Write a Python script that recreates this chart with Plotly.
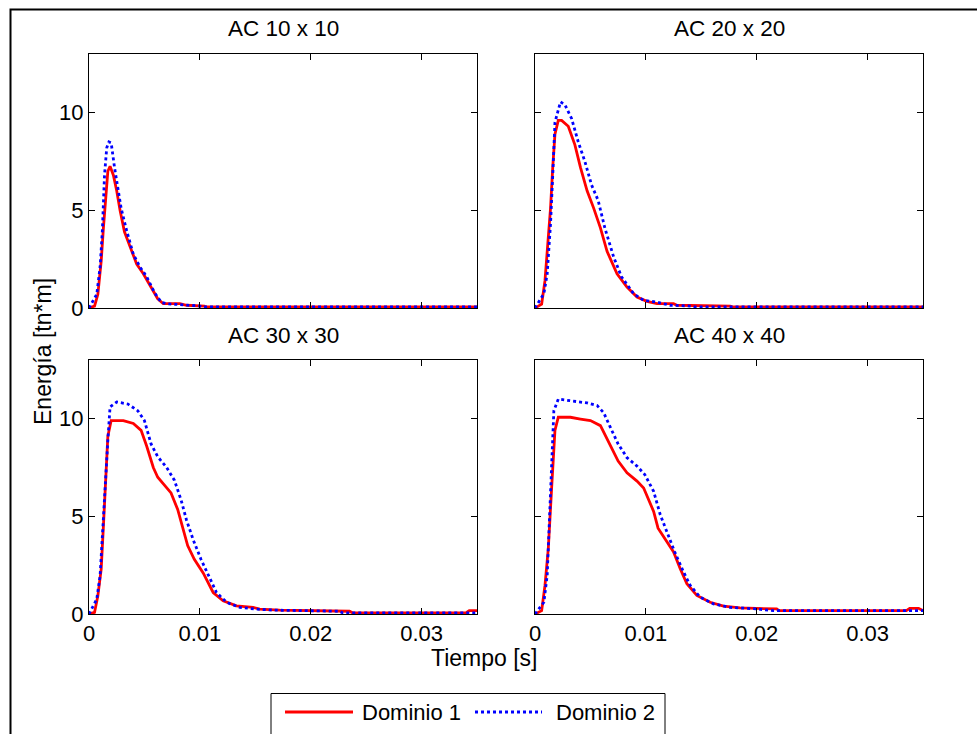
import plotly.graph_objects as go

# ---------------- data ----------------
titles = ["AC 10 x 10", "AC 20 x 20", "AC 30 x 30", "AC 40 x 40"]
series_names = ["Dominio 1", "Dominio 2"]
x_ticks = [0, 0.01, 0.02, 0.03]
x_tick_labels = ["0", "0.01", "0.02", "0.03"]
y_ticks = [0, 5, 10]
y_tick_labels = ["0", "5", "10"]

t_10_d1 = [0, 0.0005, 0.0008, 0.0011, 0.0013, 0.0015, 0.0017, 0.0019, 0.0022, 0.0025, 0.0028, 0.0032,
           0.0037, 0.0043, 0.0049, 0.0056, 0.0062, 0.0067, 0.0082, 0.0088, 0.0104, 0.0106, 0.035]
e_10_d1 = [0, 0.1, 0.7, 2.4, 4.1, 5.6, 7.0, 7.25, 6.8, 6.0, 5.0, 3.9,
           3.1, 2.25, 1.75, 1.07, 0.47, 0.22, 0.22, 0.14, 0.1, 0.05, 0.05]
t_10_d2 = [0, 0.0007, 0.001, 0.0012, 0.0014, 0.0016, 0.0018, 0.002, 0.0023, 0.0026, 0.0029, 0.0034,
           0.004, 0.0046, 0.0052, 0.0059, 0.0065, 0.007, 0.0085, 0.01, 0.0102, 0.035]
e_10_d2 = [0, 0.7, 2.1, 3.9, 6.8, 8.2, 8.5, 8.45, 7.2, 6.15, 5.1, 3.95,
           2.75, 2.1, 1.6, 0.8, 0.3, 0.22, 0.17, 0.1, 0.05, 0.05]

t_20_d1 = [0, 0.0006, 0.0009, 0.0012, 0.0014, 0.0016, 0.0018, 0.0021, 0.0024, 0.003, 0.0036, 0.0041,
           0.0047, 0.0053, 0.0059, 0.0065, 0.0074, 0.0083, 0.0092, 0.0101, 0.011, 0.0125, 0.0128,
           0.0176, 0.0179, 0.035]
e_20_d1 = [0, 0.2, 1.4, 3.4, 5.1, 7.2, 8.9, 9.6, 9.6, 9.3, 8.35, 7.2,
           6.0, 5.1, 4.1, 2.9, 1.75, 1.07, 0.56, 0.34, 0.22, 0.22, 0.14,
           0.1, 0.05, 0.05]
t_20_d2 = [0, 0.0008, 0.0011, 0.0014, 0.0016, 0.0018, 0.0023, 0.0027, 0.0033, 0.0039, 0.0045, 0.0051,
           0.0057, 0.0063, 0.0071, 0.0078, 0.0089, 0.0098, 0.011, 0.0122, 0.014, 0.0145, 0.035]
e_20_d2 = [0, 0.73, 1.75, 4.3, 6.8, 9.5, 10.55, 10.4, 9.7, 8.5, 7.5, 6.3,
           5.5, 4.1, 2.6, 1.6, 0.73, 0.39, 0.3, 0.14, 0.1, 0.05, 0.05]

t_30_d1 = [0, 0.0005, 0.0008, 0.0011, 0.0013, 0.0015, 0.0017, 0.002, 0.0031, 0.004, 0.0047, 0.0052,
           0.0058, 0.0062, 0.0068, 0.0074, 0.008, 0.0085, 0.0089, 0.0095, 0.0103, 0.0112, 0.0121,
           0.0133, 0.0148, 0.0154, 0.0172, 0.0235, 0.0238, 0.034, 0.0343, 0.035]
e_30_d1 = [0, 0.08, 0.93, 2.3, 4.5, 6.9, 9.1, 9.9, 9.9, 9.75, 9.4, 8.6,
           7.5, 7.0, 6.6, 6.2, 5.35, 4.3, 3.5, 2.8, 2.1, 1.1, 0.68,
           0.42, 0.34, 0.25, 0.2, 0.14, 0.05, 0.05, 0.17, 0.17]
t_30_d2 = [0, 0.0007, 0.001, 0.0012, 0.0014, 0.0017, 0.0019, 0.0025, 0.0035, 0.0044, 0.005, 0.0056,
           0.0062, 0.007, 0.0077, 0.0083, 0.0088, 0.0094, 0.0101, 0.0109, 0.0115, 0.0124, 0.0136,
           0.0151, 0.0166, 0.0226, 0.0229, 0.035]
e_30_d2 = [0, 0.76, 1.95, 4.0, 6.5, 8.9, 10.6, 10.85, 10.75, 10.4, 9.9, 8.7,
           8.05, 7.5, 6.85, 5.85, 4.8, 3.8, 2.8, 1.8, 1.1, 0.6, 0.34,
           0.25, 0.2, 0.14, 0.05, 0.05]

t_40_d1 = [0, 0.0006, 0.0009, 0.0012, 0.0015, 0.0018, 0.0021, 0.0032, 0.0041, 0.005, 0.0059, 0.0063,
           0.0069, 0.0075, 0.0083, 0.0092, 0.0098, 0.0102, 0.0107, 0.0111, 0.0117, 0.0125, 0.0131,
           0.0137, 0.0146, 0.0158, 0.017, 0.0185, 0.0218, 0.022, 0.0335, 0.0338, 0.0346, 0.035]
e_40_d1 = [0, 0.17, 1.46, 3.35, 6.45, 9.4, 10.07, 10.07, 9.98, 9.9, 9.64, 9.2,
           8.5, 7.83, 7.23, 6.8, 6.45, 5.94, 5.25, 4.39, 3.87, 3.18, 2.32,
           1.55, 0.95, 0.6, 0.4, 0.31, 0.26, 0.17, 0.17, 0.29, 0.29, 0.17]
t_40_d2 = [0, 0.0008, 0.0011, 0.0013, 0.0015, 0.0017, 0.0021, 0.0032, 0.0047, 0.0056, 0.0062, 0.0068,
           0.0075, 0.0083, 0.0092, 0.0099, 0.0107, 0.0113, 0.0119, 0.0126, 0.0134, 0.014, 0.0149,
           0.0161, 0.0176, 0.02, 0.0215, 0.035]
e_40_d2 = [0, 0.6, 1.98, 4.7, 7.8, 10.4, 11.0, 10.9, 10.8, 10.67, 10.3, 9.55,
           8.7, 8.0, 7.57, 7.14, 6.28, 5.08, 4.2, 3.18, 2.15, 1.46, 0.86,
           0.52, 0.34, 0.26, 0.17, 0.17]

panels = [
    ((t_10_d1, e_10_d1), (t_10_d2, e_10_d2)),
    ((t_20_d1, e_20_d1), (t_20_d2, e_20_d2)),
    ((t_30_d1, e_30_d1), (t_30_d2, e_30_d2)),
    ((t_40_d1, e_40_d1), (t_40_d2, e_40_d2)),
]

# ---------------- layout geometry (pixels) ----------------
W, H = 977, 734
FONT = "Liberation Sans, Arial, sans-serif"
FS_TICK = 22
FS_TITLE = 22.5
FS_LABEL = 23
FS_LEG = 22
RED = "#ff0000"
BLUE = "#0000ff"

def px_x(x):
    return x / W

def px_y(y):
    return 1 - y / H

col_px = [(89, 477), (535, 923)]
row_px = [(54, 308), (360, 614)]

fig = go.Figure()

styles = [dict(color=RED, width=2.8, dash="solid"), dict(color=BLUE, width=2.8, dash="dot")]

for i, pair in enumerate(panels):
    suffix = "" if i == 0 else str(i + 1)
    for j, (tt, ee) in enumerate(pair):
        fig.add_trace(go.Scatter(x=tt, y=ee, mode="lines", name=series_names[j],
                                 line=styles[j], showlegend=False, hoverinfo="skip",
                                 xaxis="x" + suffix, yaxis="y" + suffix))

layout = dict(width=W, height=H, margin=dict(l=0, r=0, t=0, b=0, autoexpand=False),
              paper_bgcolor="white", plot_bgcolor="white",
              font=dict(family=FONT, size=FS_TICK, color="black"), showlegend=False)

annotations = []
for i in range(4):
    r, c = divmod(i, 2)
    suffix = "" if i == 0 else str(i + 1)
    x0, x1 = col_px[c]
    y0, y1 = row_px[r]
    common = dict(showline=True, linecolor="black", linewidth=1, mirror="ticks",
                  ticks="inside", ticklen=6, tickcolor="black", tickwidth=1,
                  showgrid=False, zeroline=False, fixedrange=True,
                  tickfont=dict(family=FONT, size=FS_TICK, color="black"))
    layout["xaxis" + suffix] = dict(domain=[px_x(x0), px_x(x1)], range=[0, 0.035],
                                    tickvals=x_ticks, ticktext=x_tick_labels,
                                    showticklabels=(r == 1), anchor="y" + suffix, **common)
    layout["yaxis" + suffix] = dict(domain=[px_y(y1), px_y(y0)], range=[0, 13],
                                    tickvals=y_ticks, ticktext=y_tick_labels,
                                    showticklabels=(c == 0), anchor="x" + suffix, **common)
    annotations.append(dict(text=titles[i], x=px_x((x0 + x1) / 2), y=px_y(y0 - 25),
                            xref="paper", yref="paper", showarrow=False,
                            xanchor="center", yanchor="middle",
                            font=dict(family=FONT, size=FS_TITLE, color="black")))

annotations.append(dict(text="Energía [tn*m]", x=px_x(43), y=px_y(352), xref="paper", yref="paper",
                        showarrow=False, textangle=-90, xanchor="center", yanchor="middle",
                        font=dict(family=FONT, size=FS_LABEL, color="black")))
annotations.append(dict(text="Tiempo [s]", x=px_x(484), y=px_y(658), xref="paper", yref="paper",
                        showarrow=False, xanchor="center", yanchor="middle",
                        font=dict(family=FONT, size=FS_LABEL, color="black")))

# legend (drawn as a box with sample lines and labels)
leg_y = 712
annotations.append(dict(text=series_names[0], x=px_x(360), y=px_y(leg_y), xref="paper", yref="paper",
                        showarrow=False, xanchor="left", yanchor="middle",
                        font=dict(family=FONT, size=FS_LEG, color="black")))
annotations.append(dict(text=series_names[1], x=px_x(554), y=px_y(leg_y), xref="paper", yref="paper",
                        showarrow=False, xanchor="left", yanchor="middle",
                        font=dict(family=FONT, size=FS_LEG, color="black")))

shapes = [
    # outer figure frame
    dict(type="rect", xref="paper", yref="paper", x0=px_x(10.5), y0=px_y(760), x1=px_x(1000), y1=px_y(9.5),
         line=dict(color="black", width=2), fillcolor="rgba(0,0,0,0)", layer="below"),
    # legend box
    dict(type="rect", xref="paper", yref="paper", x0=px_x(271), y0=px_y(760), x1=px_x(665), y1=px_y(693.5),
         line=dict(color="black", width=1), fillcolor="white"),
    dict(type="line", xref="paper", yref="paper", x0=px_x(285), x1=px_x(353), y0=px_y(leg_y), y1=px_y(leg_y),
         line=dict(color=RED, width=2.8)),
    dict(type="line", xref="paper", yref="paper", x0=px_x(475), x1=px_x(542), y0=px_y(leg_y), y1=px_y(leg_y),
         line=dict(color=BLUE, width=2.8, dash="dot")),
]

layout["annotations"] = annotations
layout["shapes"] = shapes
fig.update_layout(**layout)

fig.write_html("out.html", config={"displayModeBar": False, "staticPlot": True},
               post_script="document.body.style.margin='0';document.body.style.overflow='hidden';")
